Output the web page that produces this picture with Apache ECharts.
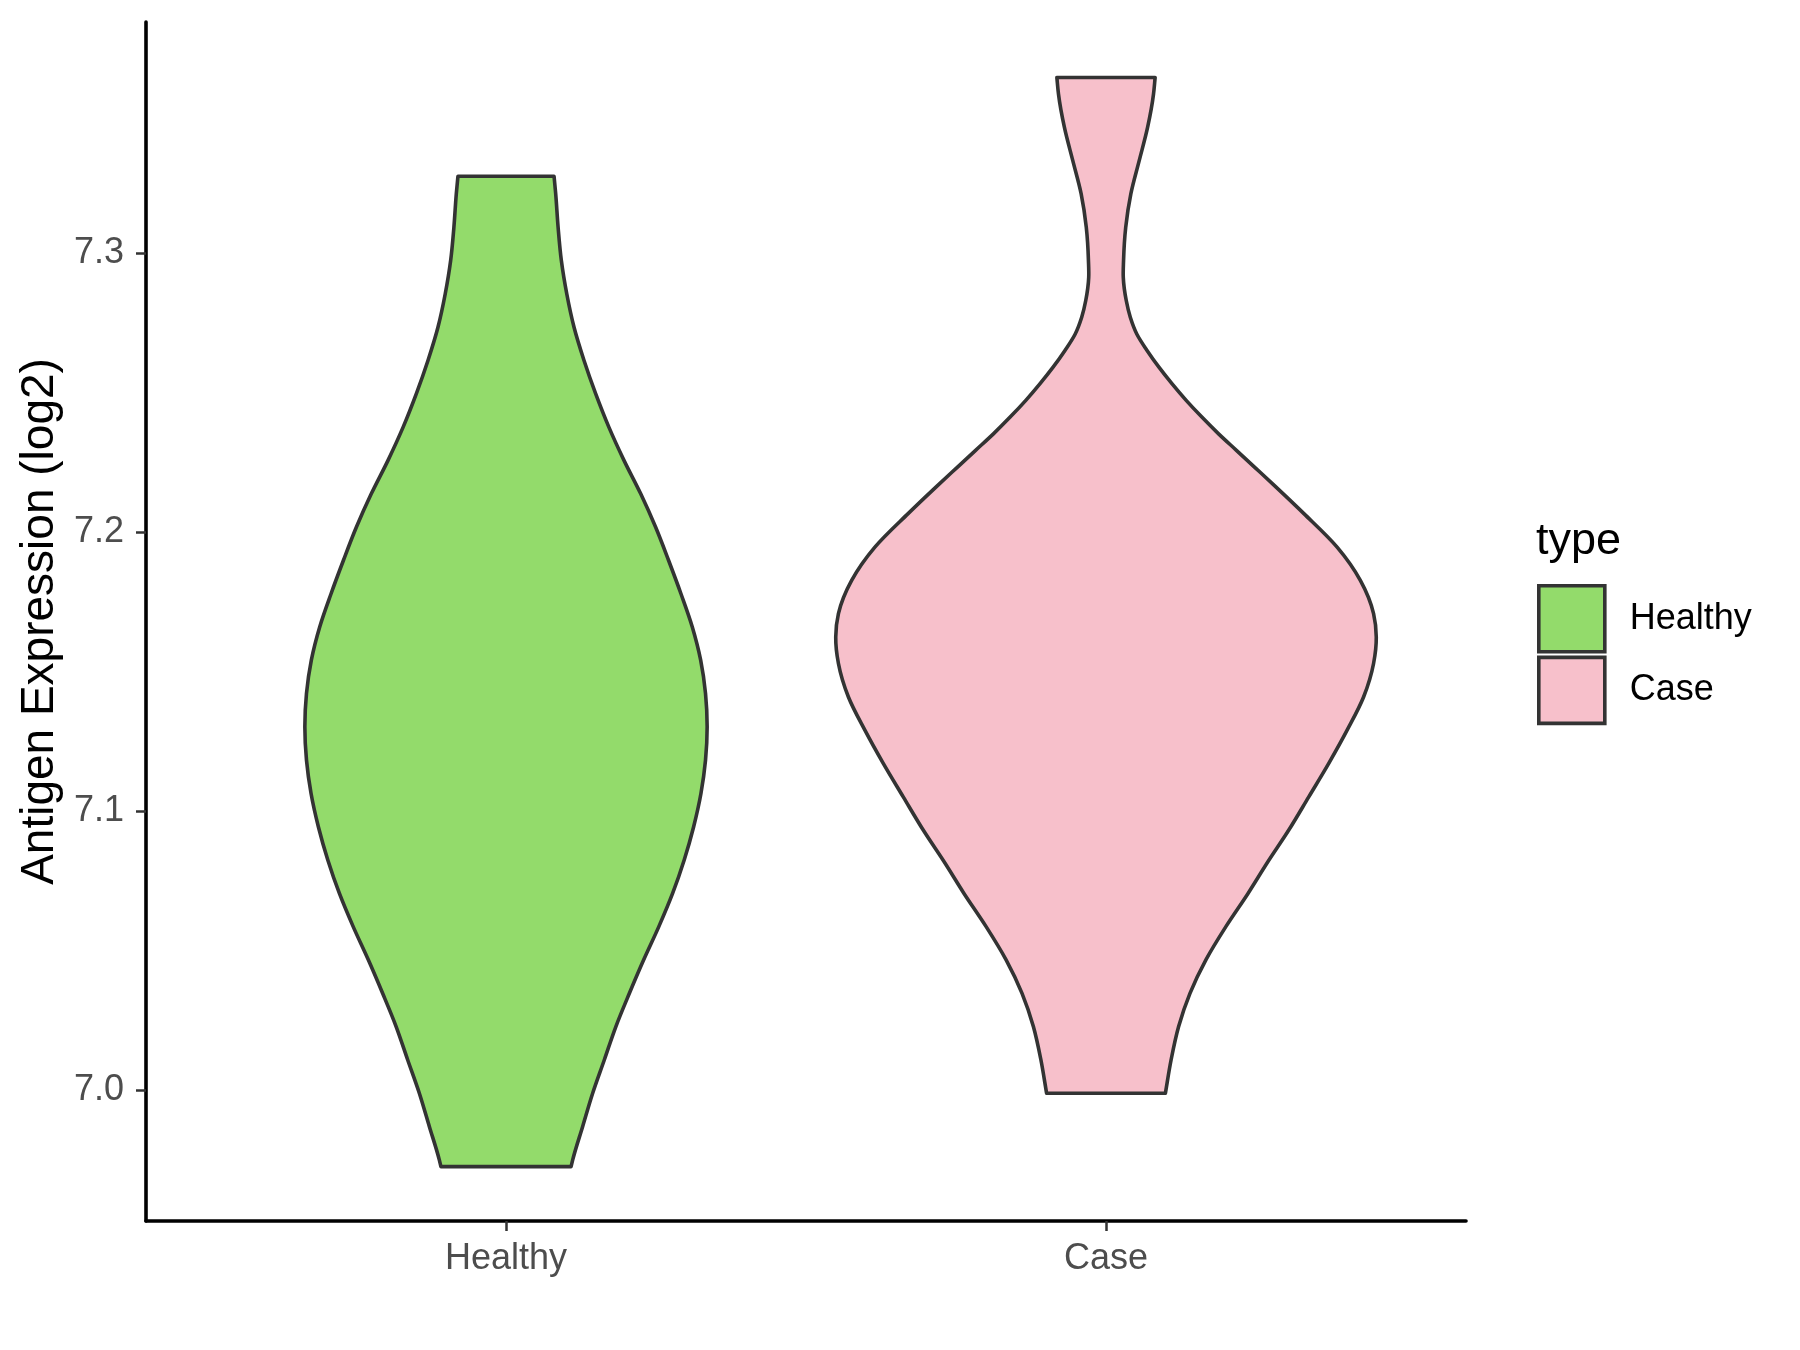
<!DOCTYPE html>
<html>
<head>
<meta charset="utf-8">
<script src="https://cdn.jsdelivr.net/npm/echarts@6/dist/echarts.min.js"></script>
<style>
html,body{margin:0;padding:0;background:#fff;}
#chart{width:1800px;height:1350px;}
</style>
</head>
<body>
<div id="chart"></div>
<script>
// ---- data ----
const categories = ['Healthy', 'Case'];
const yTicks = [7.0, 7.1, 7.2, 7.3];
const yAxisTitle = 'Antigen Expression (log2)';
const legendTitle = 'type';

// violin outlines: expression value (top -> bottom) and scaled density (1 = widest violin)
const healthyY = [7.3275, 7.3213, 7.3092, 7.2973, 7.2854, 7.2734, 7.2615, 7.2496, 7.2376, 7.2257,
  7.2137, 7.2018, 7.1899, 7.1779, 7.1660, 7.1541, 7.1421, 7.1302, 7.1183, 7.1063,
  7.0944, 7.0825, 7.0705, 7.0586, 7.0467, 7.0347, 7.0228, 7.0108, 6.9989, 6.9870,
  6.9750, 6.9726];
const healthyDensity = [0.178, 0.184, 0.193, 0.205, 0.225, 0.252, 0.289, 0.332, 0.381, 0.437,
  0.499, 0.554, 0.602, 0.648, 0.690, 0.721, 0.739, 0.745, 0.739, 0.722,
  0.695, 0.660, 0.617, 0.566, 0.510, 0.457, 0.407, 0.364, 0.321, 0.284,
  0.247, 0.241];

const caseY = [7.3629, 7.3570, 7.3450, 7.3331, 7.3212, 7.3092, 7.2973, 7.2913, 7.2830, 7.2770,
  7.2710, 7.2651, 7.2591, 7.2531, 7.2472, 7.2412, 7.2352, 7.2293, 7.2233, 7.2161,
  7.2066, 7.1946, 7.1827, 7.1708, 7.1624, 7.1529, 7.1409, 7.1290, 7.1171, 7.1051,
  7.0932, 7.0813, 7.0705, 7.0586, 7.0467, 7.0347, 7.0228, 7.0108, 6.9989];
const caseDensity = [0.182, 0.176, 0.154, 0.123, 0.092, 0.073, 0.065, 0.064, 0.075, 0.090,
  0.114, 0.152, 0.196, 0.245, 0.297, 0.355, 0.417, 0.483, 0.550, 0.630,
  0.733, 0.856, 0.942, 0.991, 1.001, 0.991, 0.954, 0.893, 0.825, 0.751,
  0.677, 0.596, 0.526, 0.444, 0.370, 0.311, 0.269, 0.241, 0.220];

const profiles = [
  { y: healthyY, d: healthyDensity },
  { y: caseY, d: caseDensity }
];

// ---- rendering ----
const FONT = '"Liberation Sans", Arial, Helvetica, sans-serif';
const colors = ['#93DB6B', '#F7C0CB'];
const HALF = 0.45; // ggplot violin width 0.9

// smooth curve through points whose y is monotonic: cubic Hermite, x as a function of y
function hermite(pts) {
  const n = pts.length;
  const m = new Array(n);
  const sec = [];
  for (let i = 0; i < n - 1; i++) sec.push((pts[i + 1][0] - pts[i][0]) / (pts[i + 1][1] - pts[i][1]));
  for (let i = 0; i < n; i++) {
    if (i === 0) m[i] = sec[0];
    else if (i === n - 1) m[i] = sec[n - 2];
    else {
      const h0 = pts[i][1] - pts[i - 1][1], h1 = pts[i + 1][1] - pts[i][1];
      m[i] = (sec[i - 1] * h1 + sec[i] * h0) / (h0 + h1);
    }
  }
  let s = '';
  for (let i = 0; i < n - 1; i++) {
    const h = pts[i + 1][1] - pts[i][1];
    const c1x = pts[i][0] + m[i] * h / 3, c1y = pts[i][1] + h / 3;
    const c2x = pts[i + 1][0] - m[i + 1] * h / 3, c2y = pts[i + 1][1] - h / 3;
    s += ' C' + c1x.toFixed(2) + ',' + c1y.toFixed(2) + ' ' + c2x.toFixed(2) + ',' + c2y.toFixed(2) + ' ' +
      pts[i + 1][0].toFixed(2) + ',' + pts[i + 1][1].toFixed(2);
  }
  return s;
}

function renderViolin(params, api) {
  const k = params.seriesIndex;
  const prof = profiles[k];
  const cx = k + 1;
  const right = prof.y.map((v, i) => api.coord([cx + prof.d[i] * HALF, v]));
  const left = prof.y.map((v, i) => api.coord([cx - prof.d[i] * HALF, v])).reverse();
  let d = 'M' + left[left.length - 1][0].toFixed(2) + ',' + left[left.length - 1][1].toFixed(2);
  d += ' L' + right[0][0].toFixed(2) + ',' + right[0][1].toFixed(2);
  d += hermite(right);
  d += ' L' + left[0][0].toFixed(2) + ',' + left[0][1].toFixed(2);
  d += hermite(left);
  d += ' Z';
  return {
    type: 'path',
    shape: { pathData: d },
    style: { fill: colors[k], stroke: '#333333', lineWidth: 3.6, lineJoin: 'round' }
  };
}

const chart = echarts.init(document.getElementById('chart'), null, { renderer: 'canvas' });
chart.setOption({
  backgroundColor: '#ffffff',
  animation: false,
  textStyle: { fontFamily: FONT },
  title: {
    text: legendTitle,
    left: 1531, top: 514,
    textStyle: { fontFamily: FONT, fontSize: 45, fontWeight: 'normal', color: '#000' }
  },
  legend: {
    orient: 'vertical',
    left: 1537, top: 584,
    padding: 0,
    itemWidth: 66, itemHeight: 66, itemGap: 2,
    icon: 'rect',
    itemStyle: { borderColor: '#333333', borderWidth: 3.6 },
    textStyle: { fontFamily: FONT, fontSize: 36, color: '#000', padding: [7, 0, 0, 20] },
    data: categories
  },
  grid: { left: 146, right: 334, top: 22, bottom: 129, containLabel: false, outerBoundsMode: 'none' },
  xAxis: {
    type: 'value', min: 0.4, max: 2.6,
    splitLine: { show: false },
    axisLine: { show: true, onZero: false, lineStyle: { color: '#000', width: 3.6 } },
    axisTick: { show: true, length: 10, customValues: [1, 2], lineStyle: { color: '#333', width: 2.5 } },
    axisLabel: {
      customValues: [1, 2], margin: 20,
      formatter: v => categories[Math.round(v) - 1],
      fontFamily: FONT, fontSize: 36, color: '#4D4D4D'
    }
  },
  yAxis: {
    type: 'value', min: 6.9531, max: 7.3828,
    name: yAxisTitle, nameLocation: 'middle', nameGap: 76,
    nameTextStyle: { fontFamily: FONT, fontSize: 46, color: '#000' },
    splitLine: { show: false },
    axisLine: { show: true, lineStyle: { color: '#000', width: 3.6 } },
    axisTick: { show: true, length: 10, customValues: yTicks, lineStyle: { color: '#333', width: 2.5 } },
    axisLabel: {
      customValues: yTicks, margin: 22,
      formatter: v => v.toFixed(1),
      fontFamily: FONT, fontSize: 36, color: '#4D4D4D'
    }
  },
  series: categories.map((name, k) => ({
    name: name,
    type: 'custom',
    renderItem: renderViolin,
    itemStyle: { color: colors[k], borderColor: '#333333', borderWidth: 3.6 },
    data: [[k + 1, 7.15]],
    clip: false
  }))
});
</script>
</body>
</html>
